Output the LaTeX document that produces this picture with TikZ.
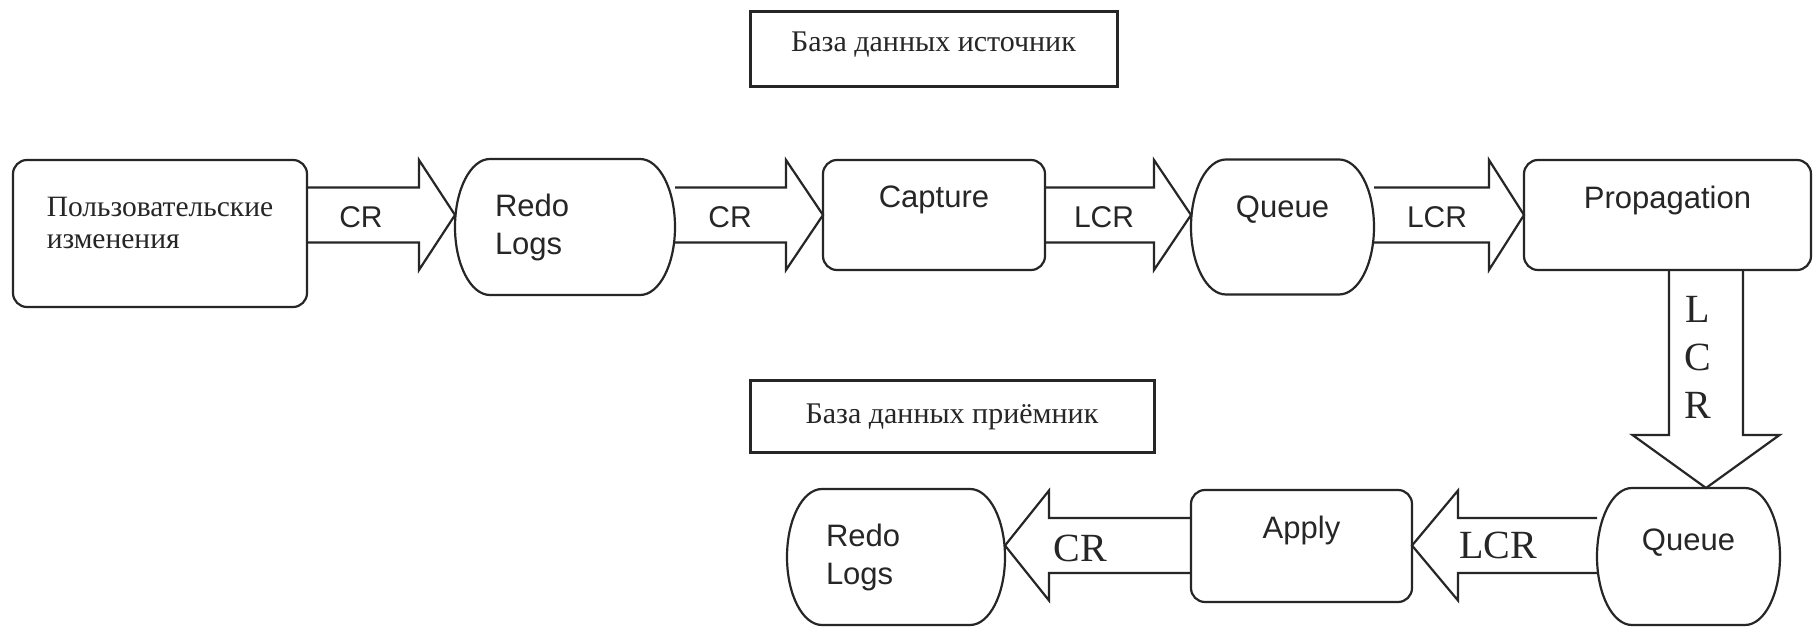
\documentclass[tikz,border=0pt]{standalone}
\usepackage{fontspec}
\setmainfont{Liberation Serif}
\setsansfont{Liberation Sans}
\usetikzlibrary{calc}
\newcommand\rz[2]{\raisebox{#1}[\height][\depth]{#2}}
% terminal outline (flat top/bottom, elliptical sides)
\newcommand\termshape[1]{%
  \draw[ln] let \p1=(#1.north west), \p2=(#1.south east), \n1={(\y1-\y2)/2} in
    (\x1+35,\y1) -- (\x2-35,\y1)
    arc[start angle=90, end angle=-90, x radius=35pt, y radius=\n1]
    -- (\x1+35,\y2)
    arc[start angle=270, end angle=90, x radius=35pt, y radius=\n1] -- cycle;}
% block arrows
\newcommand\rarrow[3]{%
  \draw[blk] let \p1=(#1), \p2=(#2) in
    (\x1,\y1+27.5) -- (\x2-#3,\y1+27.5) -- (\x2-#3,\y1+55) -- (\x2,\y2)
    -- (\x2-#3,\y1-55) -- (\x2-#3,\y1-27.5) -- (\x1,\y1-27.5);}
\newcommand\larrow[3]{%
  \draw[blk] let \p1=(#1), \p2=(#2) in
    (\x1,\y1+27.5) -- (\x2+#3,\y1+27.5) -- (\x2+#3,\y1+55) -- (\x2,\y2)
    -- (\x2+#3,\y1-55) -- (\x2+#3,\y1-27.5) -- (\x1,\y1-27.5);}
\newcommand\darrow[2]{%
  \draw[blk] let \p1=(#1), \p2=(#2) in
    (\x1-37,\y1) -- (\x1-37,\y2+53) -- (\x1-73.5,\y2+53) -- (\x2,\y2)
    -- (\x1+73.5,\y2+53) -- (\x1+37,\y2+53) -- (\x1+37,\y1);}
\tikzset{
  ln/.style={line width=2.2pt, draw=black!85},
  box/.style={ln, draw, rounded corners=14pt, inner sep=0pt, outer sep=0pt},
  term/.style={inner sep=0pt, outer sep=0pt, draw=none},
  hdr/.style={draw=black!85, line width=3pt, inner sep=0pt, outer sep=0pt,
              font=\fontsize{30}{33}\selectfont, text=black!85},
  sn/.style={font=\sffamily\fontsize{31}{38}\selectfont, text=black!85},
  sr/.style={font=\fontsize{29.5}{32}\selectfont, text=black!85},
  lbl/.style={font=\sffamily\fontsize{30}{36}\selectfont, inner sep=0pt, text=black!85},
  slbl/.style={font=\fontsize{40}{48}\selectfont, inner sep=0pt, text=black!85},
  blk/.style={ln, line join=miter},
}
\begin{document}
\begin{tikzpicture}[x=1pt,y=1pt]
\useasboundingbox (0,0) rectangle (1816,627);
\fill[white] (0,0) rectangle (1816,627);

% headers
\node[hdr, minimum width=367pt, minimum height=75pt] (hdr1) at (933.5,577.5)
  {\rz{5pt}{База данных источник}};
\node[hdr, minimum width=404pt, minimum height=72pt] (hdr2) at (952,210)
  {База данных приёмник};

% top row
\node[box, sr, minimum width=294pt, minimum height=147pt, align=left] (user) at (160,393.5)
  {\rz{7pt}{\begin{tabular}{@{}l@{}}Пользовательские\\изменения\end{tabular}}};
\node[term, sn, minimum width=220pt, minimum height=136pt, text width=140pt, align=left] (redo1) at (565,400)
  {Redo\\Logs};
\node[box, sn, minimum width=222pt, minimum height=110pt] (capture) at (934,412)
  {\rz{15pt}{Capture}};
\node[term, sn, minimum width=183pt, minimum height=135pt] (queue1) at (1282.5,400)
  {\rz{17pt}{Queue}};
\node[box, sn, minimum width=287pt, minimum height=110pt] (prop) at (1667.5,412)
  {\rz{15pt}{Propagation}};

% bottom row
\node[term, sn, minimum width=183pt, minimum height=137pt] (queue2) at (1688.5,70.5)
  {\rz{14pt}{Queue}};
\node[box, sn, minimum width=221pt, minimum height=112pt] (apply) at (1301.5,81)
  {\rz{16pt}{Apply}};
\node[term, sn, minimum width=218pt, minimum height=136pt, text width=140pt, align=left] (redo2) at (896,70)
  {Redo\\Logs};

\termshape{redo1}
\termshape{queue1}
\termshape{queue2}
\termshape{redo2}

% axes
\coordinate (ax1) at (0,412);
\coordinate (ax2) at (0,81.5);
\coordinate (vx) at (1706,0);

% connectors
\rarrow{user.east |- ax1}{redo1.west |- ax1}{36}
\rarrow{redo1.east |- ax1}{capture.west |- ax1}{37}
\rarrow{capture.east |- ax1}{queue1.west |- ax1}{37}
\rarrow{queue1.east |- ax1}{prop.west |- ax1}{35}
\darrow{prop.south -| vx}{queue2.north -| vx}
\larrow{queue2.west |- ax2}{apply.east |- ax2}{46}
\larrow{apply.west |- ax2}{redo2.east |- ax2}{44}

% connector labels
\node[lbl] (l1) at (361,410) {CR};
\node[lbl] (l2) at (730,410) {CR};
\node[lbl] (l3) at (1104,410) {LCR};
\node[lbl] (l4) at (1437,410) {LCR};
\node[slbl, align=center, font=\fontsize{40}{48}\selectfont] (l5) at (1698,270) {L\\C\\R};
\node[slbl] (l6) at (1498,82) {LCR};
\node[slbl] (l7) at (1080,79) {CR};
\end{tikzpicture}
\end{document}
